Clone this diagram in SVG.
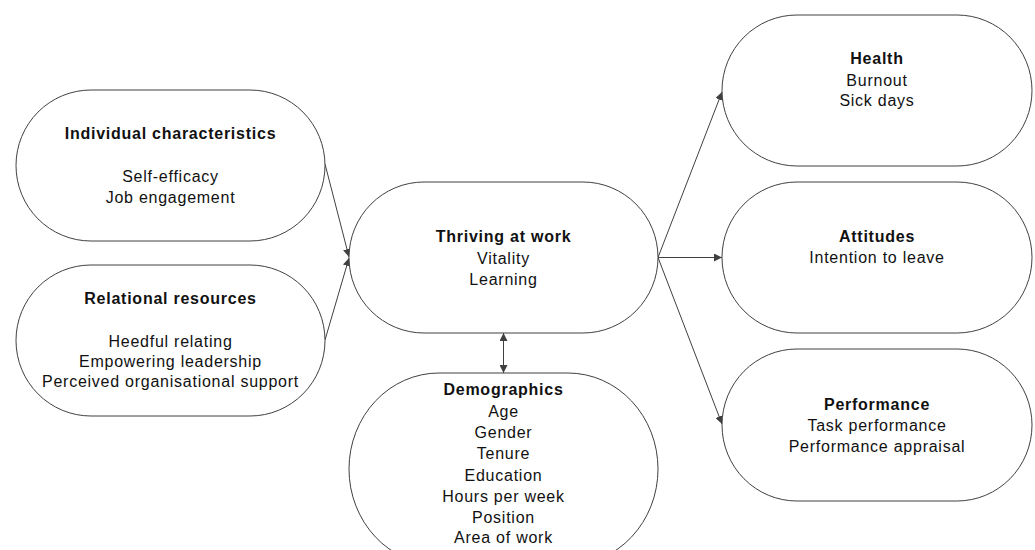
<svg xmlns="http://www.w3.org/2000/svg" width="1035" height="550" viewBox="0 0 1035 550">
<style>
.n{fill:#fff;stroke:#404040;stroke-width:1}
.c{stroke:#404040;stroke-width:1;fill:none}
text{font-family:"Liberation Sans",Arial,sans-serif;font-size:16px;letter-spacing:0.75px;fill:#111;text-anchor:middle}
.b{font-weight:bold}
</style>
<defs>
<marker id="ah" viewBox="0 0 10 10" refX="10" refY="5" markerWidth="8" markerHeight="8" markerUnits="userSpaceOnUse" orient="auto-start-reverse">
<path d="M0,0 L10,5 L0,10 Z" fill="#404040"/>
</marker>
</defs>
<g id="connectors">
<line class="c" x1="325" y1="164" x2="349" y2="257" marker-end="url(#ah)"/>
<line class="c" x1="325" y1="340" x2="349" y2="258" marker-end="url(#ah)"/>
<line class="c" x1="658" y1="257.5" x2="722" y2="92" marker-end="url(#ah)"/>
<line class="c" x1="658" y1="257.5" x2="722" y2="257.5" marker-end="url(#ah)"/>
<line class="c" x1="658" y1="257.5" x2="722" y2="424" marker-end="url(#ah)"/>
<line class="c" x1="503.5" y1="333" x2="503.5" y2="373" marker-start="url(#ah)" marker-end="url(#ah)"/>
</g>
<g id="individual">
<rect class="n" x="16" y="90" width="309" height="151" rx="75" ry="75.5"/>
<text class="b" x="170.5" y="139">Individual characteristics</text>
<text x="170.5" y="182">Self-efficacy</text>
<text x="170.5" y="203">Job engagement</text>
</g>
<g id="relational">
<rect class="n" x="16" y="265" width="309" height="151" rx="75" ry="75.5"/>
<text class="b" x="170.5" y="304">Relational resources</text>
<text x="170.5" y="347">Heedful relating</text>
<text x="170.5" y="367">Empowering leadership</text>
<text x="170.5" y="387">Perceived organisational support</text>
</g>
<g id="thriving">
<rect class="n" x="349" y="182" width="309" height="151" rx="75" ry="75.5"/>
<text class="b" x="503.5" y="242">Thriving at work</text>
<text x="503.5" y="264">Vitality</text>
<text x="503.5" y="285">Learning</text>
</g>
<g id="demographics">
<rect class="n" x="349" y="373" width="309" height="192" rx="90" ry="96"/>
<text class="b" x="503.5" y="395">Demographics</text>
<text x="503.5" y="417">Age</text>
<text x="503.5" y="438">Gender</text>
<text x="503.5" y="459">Tenure</text>
<text x="503.5" y="481">Education</text>
<text x="503.5" y="502">Hours per week</text>
<text x="503.5" y="523">Position</text>
<text x="503.5" y="543">Area of work</text>
</g>
<g id="health">
<rect class="n" x="722" y="15" width="310" height="151" rx="75" ry="75.5"/>
<text class="b" x="877" y="64">Health</text>
<text x="877" y="86">Burnout</text>
<text x="877" y="106">Sick days</text>
</g>
<g id="attitudes">
<rect class="n" x="722" y="182" width="310" height="151" rx="75" ry="75.5"/>
<text class="b" x="877" y="242">Attitudes</text>
<text x="877" y="263">Intention to leave</text>
</g>
<g id="performance">
<rect class="n" x="722" y="349" width="310" height="152" rx="75" ry="76"/>
<text class="b" x="877" y="410">Performance</text>
<text x="877" y="431">Task performance</text>
<text x="877" y="452">Performance appraisal</text>
</g>
</svg>
